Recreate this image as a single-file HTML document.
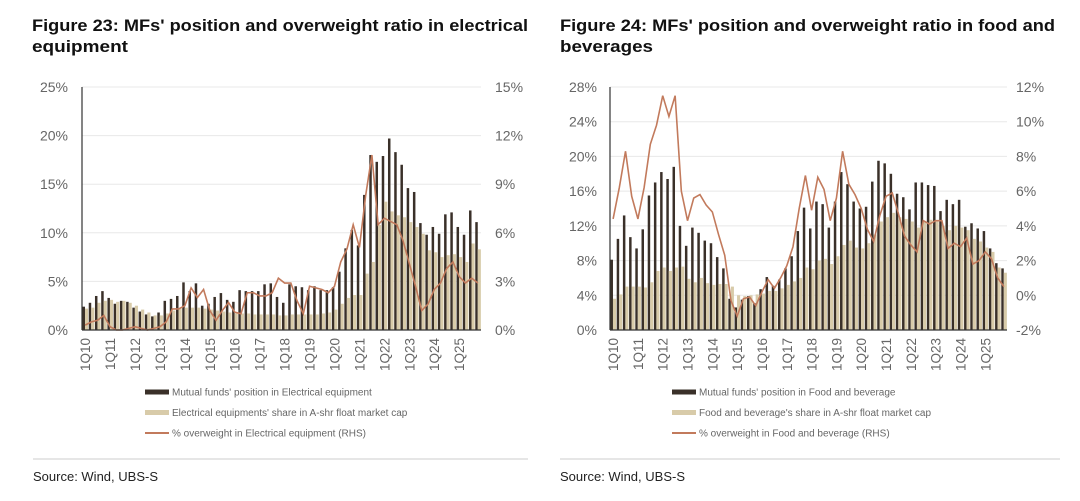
<!DOCTYPE html>
<html><head><meta charset="utf-8"><style>
body{margin:0;background:#fff;width:1080px;height:501px;overflow:hidden;font-family:"Liberation Sans",sans-serif}
svg{position:absolute;left:0;top:0}
</style></head><body>
<svg id="s" width="1080" height="501" xmlns="http://www.w3.org/2000/svg">
<g font-family="Liberation Sans, sans-serif" font-weight="bold" font-size="17" fill="#111">
<text x="32" y="31" textLength="496" lengthAdjust="spacingAndGlyphs">Figure 23: MFs' position and overweight ratio in electrical</text>
<text x="32" y="52" textLength="96" lengthAdjust="spacingAndGlyphs">equipment</text>
<text x="560" y="31" textLength="495" lengthAdjust="spacingAndGlyphs">Figure 24: MFs' position and overweight ratio in food and</text>
<text x="560" y="52" textLength="93" lengthAdjust="spacingAndGlyphs">beverages</text>
</g>
<line x1="33" y1="459" x2="528" y2="459" stroke="#ccc"/>
<line x1="560" y1="459" x2="1060" y2="459" stroke="#ccc"/>
<text x="33" y="481" font-size="13" fill="#222">Source: Wind, UBS-S</text>
<text x="560" y="481" font-size="13" fill="#222">Source: Wind, UBS-S</text>
<g id="c1"></g><g id="c2"></g>
</svg>
<script>
const quarters = Array.from({length:64},(_,i)=>(i%4+1)+'Q'+String(10+Math.floor(i/4)));
const c1Position = [2.4,2.8,3.5,4.0,3.3,2.7,3.0,2.9,2.3,1.9,1.6,1.4,1.8,3.0,3.2,3.5,4.9,4.0,4.8,2.5,2.7,3.4,3.8,3.1,2.9,4.1,4.0,4.0,4.0,4.7,4.8,3.4,2.8,4.7,4.5,4.4,4.1,4.5,4.1,4.1,4.4,6.0,8.4,10.3,8.7,13.9,18.0,17.3,17.9,19.7,18.3,17.0,14.6,14.2,11.0,9.8,10.6,9.9,11.9,12.1,10.6,9.8,12.3,11.1];
const c1Share = [2.2,2.3,2.8,3.0,3.1,2.9,3.0,2.8,2.5,2.1,1.8,1.5,1.5,1.7,2.0,2.2,2.3,2.3,2.3,2.2,2.1,2.0,1.9,1.8,1.7,1.7,1.7,1.6,1.6,1.6,1.6,1.5,1.5,1.6,1.6,1.6,1.6,1.6,1.7,1.8,2.1,2.7,3.3,3.6,3.6,5.8,7.0,10.8,13.2,12.2,11.8,11.6,11.1,10.6,9.9,8.2,8.0,7.5,7.7,7.8,7.5,7.0,8.9,8.3];
const c1Over = [0.3,0.5,0.6,0.9,0.2,0,0,0.1,0.2,0.1,0,0.1,0.2,0.5,1.3,1.3,1.5,2.6,2.0,2.5,1.2,0.6,1.2,1.7,1.1,1.0,2.3,2.3,2.1,2.1,2.3,3.2,2.9,2.9,1.8,1.0,2.7,2.6,2.5,2.3,2.7,4.2,5.0,6.5,5.1,8.3,10.8,6.5,6.9,6.7,6.5,5.5,4.1,2.7,1.2,1.6,2.5,2.9,3.8,4.2,3.3,2.9,3.2,2.9];
const c2Position = [8.1,10.5,13.2,10.7,9.4,11.6,15.5,17.0,18.2,17.4,18.8,12.0,9.7,11.8,11.2,10.3,10.0,8.4,7.1,3.6,2.6,3.5,3.9,3.1,4.7,6.1,5.1,5.8,7.1,8.5,11.4,14.1,11.7,14.8,14.5,11.8,14.8,18.2,16.8,14.8,14.0,14.2,17.1,19.5,19.2,18.0,15.7,15.3,13.9,17.0,17.0,16.7,16.6,13.7,15.0,14.5,15.0,11.9,12.3,11.7,11.4,9.4,7.7,7.1];
const c2Share = [3.6,4.1,5.0,5.0,5.0,4.9,5.5,6.8,7.2,6.8,7.2,7.3,5.9,5.5,6.0,5.4,5.2,5.3,5.3,5.0,4.0,3.9,4.0,4.1,4.2,4.5,4.5,4.8,5.2,5.6,6.0,7.2,7.0,8.0,8.2,7.6,8.5,9.8,10.3,9.5,9.4,10.0,11.0,12.5,13.0,13.5,13.0,12.8,12.5,11.8,12.5,12.7,12.5,12.0,11.5,12.0,11.8,11.5,10.5,10.2,9.5,9.0,7.2,6.6];
const c2Over = [4.4,6.2,8.3,5.7,4.4,6.2,8.7,9.8,11.5,10.3,11.5,6.0,4.3,5.6,5.8,5.2,4.8,3.5,2.3,-0.3,-1.2,-0.2,-0.1,-0.6,0.2,0.9,0.4,1.0,1.7,2.8,5.0,6.9,4.9,6.8,6.1,4.3,5.6,8.3,6.4,5.8,5.0,3.8,3.1,4.6,5.7,5.9,4.7,3.4,2.9,2.5,4.3,4.1,4.3,4.3,2.7,3.0,2.8,3.3,1.8,2.0,2.5,2.1,1.0,0.5];
const c1LeftTicks=[0,5,10,15,20,25], c1RightTicks=[0,3,6,9,12,15];
const c2LeftTicks=[0,4,8,12,16,20,24,28], c2RightTicks=[-2,0,2,4,6,8,10,12];
const c1Legend=["Mutual funds' position in Electrical equipment","Electrical equipments' share in A-shr float market cap","% overweight in Electrical equipment (RHS)"];
const c2Legend=["Mutual funds' position in Food and beverage","Food and beverage's share in A-shr float market cap","% overweight in Food and beverage (RHS)"];
const NS='http://www.w3.org/2000/svg';
function mk(p,tag,a){const e=document.createElementNS(NS,tag);for(const k in a)e.setAttribute(k,a[k]);p.appendChild(e);return e;}
function chart(g,o){
 const {x0,x1,y0,y1,lmin,lmax,rmin,rmax}=o;
 const band=(x1-x0)/o.pos.length;
 const yl=v=>y1-(v-lmin)/(lmax-lmin)*(y1-y0);
 const yr=v=>y1-(v-rmin)/(rmax-rmin)*(y1-y0);
 const xc=i=>x0+band*(i+0.5);
 o.lt.forEach((t,k)=>{
  const y=yl(t);
  const gl=mk(g,'line',{x1:x0,x2:x1,y1:y,y2:y,stroke:'#e8e8e8'});
  
  
  const tx=mk(g,'text',{x:o.lx,y:y+5,'text-anchor':'end','font-size':14,fill:'#666'});tx.textContent=t+'%';
  
  
  const rt=o.rt[k];const ty=mk(g,'text',{x:o.rx,y:yr(rt)+5,'font-size':14,fill:'#666'});ty.textContent=rt+'%';
  
  
 });
 o.pos.forEach((v,i)=>{
  const b=mk(g,'rect',{x:xc(i)-band*0.42,y:yl(v),width:band*0.4,height:y1-yl(v),fill:'#3a3029'});
  
  
  const s=o.sh[i];const c=mk(g,'rect',{x:xc(i)-band*0.02,y:yl(s),width:band*0.5,height:y1-yl(s),fill:'#d8cba9'});
  
  
 });
 const pl=mk(g,'polyline',{points:o.ov.map((v,i)=>xc(i)+','+yr(v)).join(' '),fill:'none',stroke:'#c27a5c','stroke-width':1.6});
 
 
 const ax=mk(g,'line',{x1:x0,x2:x0,y1:y0,y2:y1,stroke:'#333','stroke-width':1.2});
 
 
 const bx=mk(g,'line',{x1:x0,x2:x1,y1:y1,y2:y1,stroke:'#333','stroke-width':1.2});
 
 
 quarters.forEach((q,i)=>{ if(i%4) return;
  const t=mk(g,'text',{transform:`translate(${xc(i)+5},${y1+8}) rotate(-90)`,'text-anchor':'end','font-size':13.5,fill:'#666'});t.textContent=q;
  
  
 });
 const cols=['#3a3029','#d8cba9','#c27a5c'];
 o.leg.forEach((l,k)=>{
  const y=o.legY+k*20.5;
  const sw=mk(g,'rect',{x:o.legX,y:y-(k==2?1:2.5),width:24,height:k==2?2:5,fill:cols[k]});
  
  
  const t=mk(g,'text',{x:o.legX+27,y:y+3.5,'font-size':10,fill:'#666'});t.textContent=l;
  
  
 });
}
chart(document.getElementById('c1'),{x0:82,x1:481,y0:87,y1:330,lmin:0,lmax:25,rmin:0,rmax:15,pos:c1Position,sh:c1Share,ov:c1Over,lt:c1LeftTicks,rt:c1RightTicks,lx:68,rx:495,leg:c1Legend,legX:145,legY:392});
chart(document.getElementById('c2'),{x0:610,x1:1007,y0:87,y1:330,lmin:0,lmax:28,rmin:-2,rmax:12,pos:c2Position,sh:c2Share,ov:c2Over,lt:c2LeftTicks,rt:c2RightTicks,lx:597,rx:1016,leg:c2Legend,legX:672,legY:392});
</script>
</body></html>
